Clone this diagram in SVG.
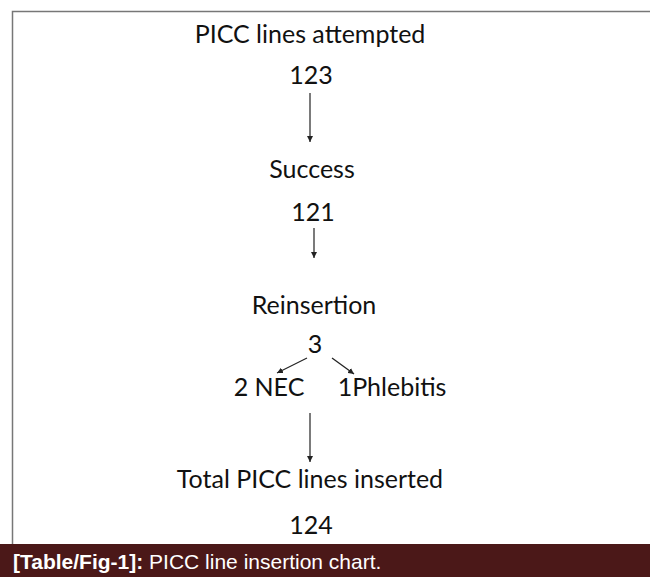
<svg xmlns="http://www.w3.org/2000/svg" width="650" height="577" viewBox="0 0 650 577">
  <style>
    .t { font-family: Lato, "Open Sans", "Liberation Sans", sans-serif; font-size: 25px; fill: #111; text-anchor: middle; }
    .frame { fill: none; stroke: #777; stroke-width: 1.5; }
    .conn line { stroke: #222; stroke-width: 1.2; marker-end: url(#ah); }
    .cap { font-family: "Liberation Sans", Arial, sans-serif; font-size: 21px; fill: #fff; }
  </style>
  <defs>
    <marker id="ah" viewBox="0 0 10 10" refX="10" refY="5" markerWidth="6" markerHeight="6" markerUnits="userSpaceOnUse" orient="auto">
      <path d="M0,0 L10,5 L0,10 z" fill="#222"/>
    </marker>
  </defs>

  <rect width="650" height="577" fill="#fff"/>
  <!-- open frame: top and left edges only -->
  <path class="frame" d="M12.5,544 V11.5 H650"/>

  <g id="attempted"><text class="t" x="310" y="43">PICC lines attempted</text><text class="t" x="311" y="84">123</text></g>
  <g id="success"><text class="t" x="312" y="178">Success</text><text class="t" x="313" y="221">121</text></g>
  <g id="reinsertion"><text class="t" x="314" y="314">Reinsertion</text><text class="t" x="315" y="353">3</text></g>
  <g id="nec"><text class="t" x="269" y="396">2 NEC</text></g>
  <g id="phlebitis"><text class="t" x="392" y="396">1Phlebitis</text></g>
  <g id="total"><text class="t" x="310" y="488">Total PICC lines inserted</text><text class="t" x="311" y="534">124</text></g>

  <g class="conn" id="connectors">
    <line x1="310" y1="93" x2="310" y2="142"/>
    <line x1="314" y1="228" x2="314" y2="258"/>
    <line x1="307" y1="358" x2="277" y2="373"/>
    <line x1="332" y1="358" x2="354" y2="374"/>
    <line x1="310" y1="413" x2="310" y2="462"/>
  </g>

  <g id="caption">
    <rect x="0" y="544" width="650" height="33" fill="#4b1818"/>
    <text class="cap" x="13" y="569"><tspan font-weight="bold">[Table/Fig-1]:</tspan> PICC line insertion chart.</text>
  </g>
</svg>
